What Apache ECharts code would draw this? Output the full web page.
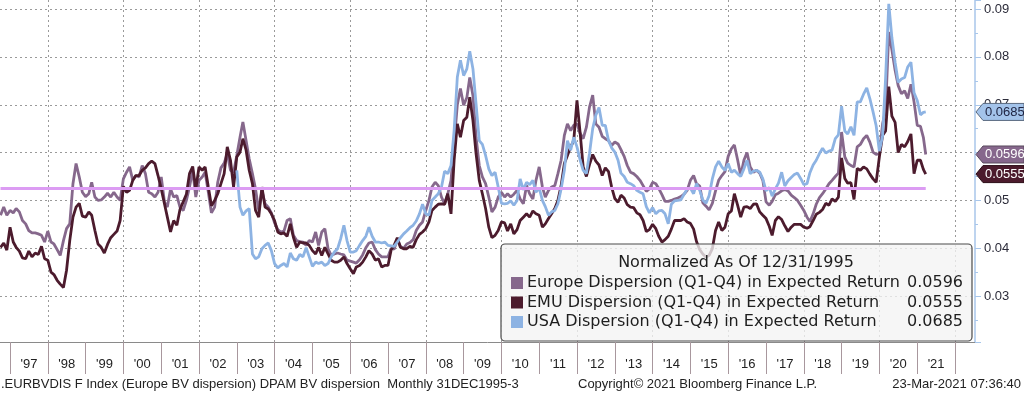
<!DOCTYPE html>
<html><head><meta charset="utf-8">
<script src="https://cdn.jsdelivr.net/npm/echarts@6/dist/echarts.min.js"></script>
<style>html,body{margin:0;padding:0;background:#fff;}#c{width:1024px;height:393px;}</style>
</head><body><div id="c"></div>
<script>
// ---------------- DATA ----------------
const seriesNames = [
  'Europe Dispersion (Q1-Q4) in Expected Return',
  'EMU Dispersion (Q1-Q4) in Expected Return',
  'USA Dispersion (Q1-Q4) in Expected Return'
];
const legendTitle = 'Normalized As Of 12/31/1995';
const footerLeft = '.EURBVDIS F Index (Europe BV dispersion) DPAM BV dispersion  Monthly 31DEC1995-3';
const footerMid = 'Copyright\u00A9 2021 Bloomberg Finance L.P.';
const footerRight = '23-Mar-2021 07:36:40';

// monthly (month-end) observations
const europeStart = [1996, 9];
const emuStart = [1996, 9];
const usaStart = [2002, 12];
const lastObsDate = '2021-03-23';

const europe = [
  0.0469, 0.0486, 0.0469, 0.0479,
  0.0474, 0.0483, 0.0476, 0.0458, 0.0451, 0.0437, 0.0432, 0.0432, 0.0430, 0.0427, 0.0413, 0.0436,
  0.0413, 0.0409, 0.0397, 0.0385, 0.0416, 0.0441, 0.0451, 0.0535, 0.0577, 0.0549, 0.0517, 0.0508,
  0.0514, 0.0538, 0.0507, 0.0500, 0.0501, 0.0507, 0.0515, 0.0507, 0.0517, 0.0507, 0.0500, 0.0545,
  0.0559, 0.0570, 0.0542, 0.0552, 0.0549, 0.0573, 0.0556, 0.0517, 0.0514, 0.0507, 0.0517, 0.0549,
  0.0497, 0.0486, 0.0524, 0.0507, 0.0510, 0.0486, 0.0479, 0.0500, 0.0528, 0.0563, 0.0507, 0.0542,
  0.0549, 0.0559, 0.0517, 0.0474, 0.0486, 0.0538, 0.0568, 0.0578, 0.0598, 0.0563, 0.0559, 0.0594,
  0.0632, 0.0664, 0.0625, 0.0587, 0.0556, 0.0524, 0.0479, 0.0521, 0.0493, 0.0486, 0.0474, 0.0453,
  0.0439, 0.0434, 0.0436, 0.0458, 0.0462, 0.0427, 0.0416, 0.0414, 0.0413, 0.0406, 0.0416, 0.0413,
  0.0434, 0.0406, 0.0434, 0.0441, 0.0399, 0.0385, 0.0388, 0.0390, 0.0388, 0.0386, 0.0375, 0.0373,
  0.0371, 0.0369, 0.0376, 0.0386, 0.0401, 0.0411, 0.0413, 0.0397, 0.0388, 0.0382, 0.0382, 0.0382,
  0.0400, 0.0398, 0.0418, 0.0404, 0.0400, 0.0409, 0.0412, 0.0418, 0.0437, 0.0448, 0.0455, 0.0479,
  0.0500, 0.0528, 0.0538, 0.0531, 0.0507, 0.0493, 0.0514, 0.0542, 0.0618, 0.0700, 0.0734, 0.0699,
  0.0715, 0.0757, 0.0719, 0.0632, 0.0573, 0.0549, 0.0535, 0.0507, 0.0476, 0.0486, 0.0507, 0.0517,
  0.0507, 0.0514, 0.0507, 0.0513, 0.0521, 0.0503, 0.0493, 0.0531, 0.0514, 0.0503, 0.0542, 0.0570,
  0.0528, 0.0507, 0.0521, 0.0528, 0.0531, 0.0556, 0.0584, 0.0636, 0.0660, 0.0646, 0.0657, 0.0660,
  0.0640, 0.0629, 0.0653, 0.0695, 0.0720, 0.0660, 0.0653, 0.0634, 0.0629, 0.0625, 0.0615, 0.0622,
  0.0618, 0.0606, 0.0592, 0.0573, 0.0559, 0.0556, 0.0550, 0.0542, 0.0531, 0.0519, 0.0524, 0.0538,
  0.0535, 0.0525, 0.0512, 0.0498, 0.0498, 0.0500, 0.0503, 0.0505, 0.0508, 0.0513, 0.0521, 0.0542,
  0.0552, 0.0535, 0.0530, 0.0495, 0.0488, 0.0480, 0.0494, 0.0520, 0.0542, 0.0552, 0.0560, 0.0592,
  0.0608, 0.0616, 0.0585, 0.0552, 0.0584, 0.0600, 0.0570, 0.0559, 0.0563, 0.0557, 0.0542, 0.0497,
  0.0490, 0.0498, 0.0512, 0.0515, 0.0520, 0.0523, 0.0520, 0.0511, 0.0506, 0.0500, 0.0490, 0.0479,
  0.0465, 0.0456, 0.0472, 0.0492, 0.0506, 0.0514, 0.0524, 0.0535, 0.0542, 0.0550, 0.0557, 0.0643,
  0.0591, 0.0578, 0.0573, 0.0570, 0.0612, 0.0617, 0.0629, 0.0636, 0.0622, 0.0601, 0.0596, 0.0598,
  0.0660, 0.0688, 0.0852, 0.0815, 0.0772, 0.0740, 0.0723, 0.0729, 0.0713, 0.0743, 0.0706, 0.0657,
  0.0655, 0.0632, 0.0596
];

const emu = [
  0.0402, 0.0411, 0.0396, 0.0444,
  0.0413, 0.0402, 0.0394, 0.0380, 0.0378, 0.0394, 0.0382, 0.0390, 0.0387, 0.0404, 0.0378, 0.0375,
  0.0350, 0.0345, 0.0333, 0.0325, 0.0318, 0.0354, 0.0416, 0.0465, 0.0486, 0.0494, 0.0467, 0.0465,
  0.0476, 0.0469, 0.0437, 0.0409, 0.0402, 0.0390, 0.0408, 0.0422, 0.0429, 0.0436, 0.0458, 0.0529,
  0.0517, 0.0521, 0.0542, 0.0552, 0.0552, 0.0563, 0.0568, 0.0577, 0.0582, 0.0577, 0.0552, 0.0524,
  0.0493, 0.0465, 0.0434, 0.0458, 0.0448, 0.0481, 0.0497, 0.0513, 0.0556, 0.0571, 0.0524, 0.0570,
  0.0563, 0.0570, 0.0528, 0.0489, 0.0500, 0.0514, 0.0535, 0.0556, 0.0612, 0.0584, 0.0528, 0.0591,
  0.0601, 0.0629, 0.0605, 0.0563, 0.0535, 0.0479, 0.0465, 0.0528, 0.0486, 0.0482, 0.0472, 0.0458,
  0.0434, 0.0430, 0.0432, 0.0425, 0.0451, 0.0423, 0.0402, 0.0413, 0.0411, 0.0411, 0.0406, 0.0395,
  0.0388, 0.0402, 0.0385, 0.0402, 0.0388, 0.0375, 0.0371, 0.0371, 0.0375, 0.0382, 0.0368, 0.0357,
  0.0347, 0.0361, 0.0364, 0.0371, 0.0382, 0.0395, 0.0388, 0.0375, 0.0378, 0.0361, 0.0364, 0.0364,
  0.0397, 0.0406, 0.0422, 0.0402, 0.0399, 0.0399, 0.0404, 0.0402, 0.0418, 0.0429, 0.0434, 0.0441,
  0.0455, 0.0479, 0.0486, 0.0492, 0.0493, 0.0492, 0.0514, 0.0472, 0.0584, 0.0660, 0.0632, 0.0667,
  0.0674, 0.0716, 0.0667, 0.0598, 0.0542, 0.0514, 0.0483, 0.0444, 0.0422, 0.0427, 0.0437, 0.0455,
  0.0453, 0.0436, 0.0451, 0.0430, 0.0439, 0.0458, 0.0465, 0.0472, 0.0465, 0.0478, 0.0472, 0.0469,
  0.0444, 0.0451, 0.0462, 0.0472, 0.0483, 0.0500, 0.0531, 0.0577, 0.0594, 0.0612, 0.0625, 0.0709,
  0.0640, 0.0570, 0.0550, 0.0575, 0.0596, 0.0582, 0.0574, 0.0552, 0.0568, 0.0560, 0.0528, 0.0504,
  0.0496, 0.0511, 0.0505, 0.0491, 0.0486, 0.0485, 0.0474, 0.0470, 0.0458, 0.0435, 0.0439, 0.0450,
  0.0441, 0.0425, 0.0413, 0.0418, 0.0425, 0.0440, 0.0458, 0.0458, 0.0458, 0.0462, 0.0455, 0.0452,
  0.0440, 0.0414, 0.0397, 0.0388, 0.0381, 0.0385, 0.0399, 0.0437, 0.0455, 0.0437, 0.0444, 0.0472,
  0.0478, 0.0514, 0.0490, 0.0465, 0.0486, 0.0487, 0.0483, 0.0492, 0.0493, 0.0476, 0.0469, 0.0462,
  0.0446, 0.0427, 0.0458, 0.0466, 0.0460, 0.0447, 0.0435, 0.0444, 0.0450, 0.0450, 0.0450, 0.0444,
  0.0442, 0.0445, 0.0458, 0.0471, 0.0475, 0.0481, 0.0494, 0.0490, 0.0503, 0.0498, 0.0507, 0.0589,
  0.0546, 0.0536, 0.0537, 0.0502, 0.0567, 0.0563, 0.0570, 0.0566, 0.0555, 0.0545, 0.0538, 0.0591,
  0.0636, 0.0645, 0.0738, 0.0676, 0.0663, 0.0600, 0.0617, 0.0612, 0.0623, 0.0639, 0.0556, 0.0584,
  0.0584, 0.0565, 0.0555
];

const usa = [
  0.0563,
  0.0486, 0.0469, 0.0478, 0.0483, 0.0388, 0.0378, 0.0382, 0.0399, 0.0406, 0.0411, 0.0395, 0.0368,
  0.0359, 0.0364, 0.0368, 0.0361, 0.0390, 0.0378, 0.0375, 0.0387, 0.0382, 0.0401, 0.0382, 0.0362,
  0.0371, 0.0368, 0.0371, 0.0364, 0.0368, 0.0382, 0.0392, 0.0399, 0.0420, 0.0448, 0.0416, 0.0392,
  0.0392, 0.0395, 0.0406, 0.0416, 0.0425, 0.0444, 0.0425, 0.0413, 0.0413, 0.0411, 0.0413, 0.0406,
  0.0405, 0.0404, 0.0413, 0.0422, 0.0430, 0.0436, 0.0443, 0.0448, 0.0457, 0.0472, 0.0492, 0.0472,
  0.0469, 0.0500, 0.0507, 0.0514, 0.0528, 0.0561, 0.0556, 0.0573, 0.0646, 0.0758, 0.0793, 0.0761,
  0.0775, 0.0812, 0.0775, 0.0702, 0.0625, 0.0617, 0.0594, 0.0566, 0.0552, 0.0559, 0.0528, 0.0494,
  0.0493, 0.0494, 0.0499, 0.0490, 0.0500, 0.0545, 0.0522, 0.0538, 0.0533, 0.0542, 0.0517, 0.0526,
  0.0500, 0.0487, 0.0469, 0.0476, 0.0479, 0.0493, 0.0524, 0.0563, 0.0625, 0.0605, 0.0632, 0.0612,
  0.0584, 0.0563, 0.0556, 0.0598, 0.0650, 0.0678, 0.0694, 0.0657, 0.0657, 0.0625, 0.0610, 0.0601,
  0.0584, 0.0557, 0.0550, 0.0538, 0.0535, 0.0531, 0.0521, 0.0517, 0.0514, 0.0487, 0.0474, 0.0485,
  0.0472, 0.0478, 0.0479, 0.0472, 0.0451, 0.0492, 0.0499, 0.0500, 0.0501, 0.0513, 0.0524, 0.0526,
  0.0514, 0.0535, 0.0521, 0.0501, 0.0494, 0.0510, 0.0545, 0.0570, 0.0582, 0.0570, 0.0563, 0.0577,
  0.0559, 0.0563, 0.0556, 0.0550, 0.0566, 0.0584, 0.0556, 0.0561, 0.0563, 0.0559, 0.0545, 0.0520,
  0.0527, 0.0509, 0.0524, 0.0536, 0.0559, 0.0530, 0.0541, 0.0548, 0.0554, 0.0557, 0.0546, 0.0533,
  0.0535, 0.0558, 0.0574, 0.0584, 0.0598, 0.0609, 0.0599, 0.0603, 0.0605, 0.0629, 0.0637, 0.0697,
  0.0645, 0.0639, 0.0654, 0.0636, 0.0706, 0.0706, 0.0722, 0.0735, 0.0713, 0.0685, 0.0656, 0.0603,
  0.0635, 0.0756, 0.0911, 0.0840, 0.0789, 0.0747, 0.0754, 0.0757, 0.0779, 0.0789, 0.0725, 0.0709,
  0.0679, 0.0684, 0.0685
];

const refLevel = 0.0525;
const yearTicks = ["'97","'98","'99","'00","'01","'02","'03","'04","'05","'06","'07","'08",
  "'09","'10","'11","'12","'13","'14","'15","'16","'17","'18","'19","'20","'21"];

// ---------------- STYLE ----------------
const colors = ['#86688c', '#4c1b2d', '#8db3e3'];
const refColor = '#dc9cf3';
const gridColor = '#9a9a9a';
const axisBlue = '#a8c6ea';

function monthEnd(start, i) {
  const mm = start[1] - 1 + i;
  return Date.UTC(start[0] + Math.floor(mm / 12), (mm % 12) + 1, 0);
}
function toPairs(vals, start) {
  return vals.map((v, i) => [i === vals.length - 1 ? Date.parse(lastObsDate) : monthEnd(start, i), v]);
}
const eData = toPairs(europe, europeStart);
const mData = toPairs(emu, emuStart);
const uData = toPairs(usa, usaStart);

const chart = echarts.init(document.getElementById('c'), null, {renderer: 'canvas'});
const gridRightX = 975;
const evenYearStart = (idx) => idx % 2 === 1; // '98, '00, '02 ... boundaries

const option = {
  animation: false,
  backgroundColor: '#ffffff',
  grid: [
    {left: 0, right: 1024 - gridRightX, top: 0, bottom: 51},
    {left: 10, right: 69, top: 0, bottom: 51}
  ],
  xAxis: [
    {
      type: 'time', gridIndex: 0,
      min: Date.UTC(1996, 8, 25), max: Date.UTC(2022, 6, 12),
      axisLine: {show: true, onZero: false, lineStyle: {color: '#8a8a8a', width: 1}},
      axisTick: {show: false}, axisLabel: {show: false}, splitLine: {show: false}
    },
    {
      type: 'category', gridIndex: 1, data: yearTicks, boundaryGap: true,
      axisLine: {show: false},
      axisTick: {show: true, interval: 0, length: 32, lineStyle: {color: '#a8979d', width: 1}},
      axisLabel: {show: true, interval: 0, margin: 16, color: '#222', fontFamily: 'Liberation Sans', fontSize: 13},
      splitLine: {show: false}
    },
    {
      type: 'category', gridIndex: 1, data: yearTicks, boundaryGap: true,
      axisLine: {show: false},
      axisTick: {show: false, interval: evenYearStart},
      axisLabel: {show: false, interval: evenYearStart},
      splitLine: {show: true, interval: evenYearStart, lineStyle: {color: gridColor, type: [2, 3], width: 1}}
    }
  ],
  yAxis: [
    {
      type: 'value', gridIndex: 0, position: 'right',
      min: 0.0204, max: 0.0919, splitNumber: 7, minInterval: 0.01, maxInterval: 0.01,
      axisLine: {show: true, lineStyle: {color: axisBlue, width: 1.5}},
      axisTick: {show: true, length: 6, lineStyle: {color: axisBlue}},
      minorTick: {show: true, splitNumber: 2, length: 3, lineStyle: {color: axisBlue}},
      axisLabel: {show: true, margin: 9, color: '#2c2c3a', fontFamily: 'Liberation Sans', fontSize: 13,
        showMinLabel: false, showMaxLabel: false, formatter: v => v.toFixed(2)},
      splitLine: {show: true, showMinLine: false, showMaxLine: false,
        lineStyle: {color: gridColor, type: [2, 3], width: 1}}
    },
    {type: 'value', gridIndex: 1, show: false}
  ],
  series: [
    {name: seriesNames[0], type: 'line', xAxisIndex: 0, yAxisIndex: 0, data: eData, showSymbol: false,
      lineStyle: {color: colors[0], width: 2.8}, itemStyle: {color: colors[0]}, z: 2},
    {name: seriesNames[1], type: 'line', xAxisIndex: 0, yAxisIndex: 0, data: mData, showSymbol: false,
      lineStyle: {color: colors[1], width: 2.8}, itemStyle: {color: colors[1]}, z: 3},
    {name: seriesNames[2], type: 'line', xAxisIndex: 0, yAxisIndex: 0, data: uData, showSymbol: false,
      lineStyle: {color: colors[2], width: 2.8}, itemStyle: {color: colors[2]}, z: 4},
    {name: 'ref', type: 'line', xAxisIndex: 0, yAxisIndex: 0,
      data: [[eData[0][0], refLevel], [eData[eData.length - 1][0], refLevel]], showSymbol: false,
      lineStyle: {color: refColor, width: 3}, itemStyle: {color: refColor}, z: 5}
  ]
};
chart.setOption(option);

// ---------- overlays: legend box, value tags, footer ----------
const lastVals = [europe[europe.length - 1], emu[emu.length - 1], usa[usa.length - 1]];
const g = [];
const bx = 501, by = 244, bw = 471, bh = 97;
g.push({type: 'rect', z: 50, shape: {x: bx, y: by, width: bw, height: bh, r: 4},
  style: {fill: 'rgba(243,243,243,0.78)', stroke: '#4a4a4a', lineWidth: 1.2}});
g.push({type: 'text', z: 51, style: {text: legendTitle, x: 736, y: 263, align: 'center', verticalAlign: 'middle',
  font: '16px "DejaVu Sans"', fill: '#1e1e1e'}});
const rowY = [283, 302.5, 322];
for (let i = 0; i < 3; i++) {
  g.push({type: 'rect', z: 51, shape: {x: 511, y: rowY[i] - 6, width: 12, height: 12}, style: {fill: colors[i]}});
  g.push({type: 'text', z: 51, style: {text: seriesNames[i], x: 527, y: rowY[i], align: 'left', verticalAlign: 'middle',
    font: '16px "DejaVu Sans"', fill: '#1e1e1e'}});
  g.push({type: 'text', z: 51, style: {text: lastVals[i].toFixed(4), x: 963, y: rowY[i], align: 'right', verticalAlign: 'middle',
    font: '16px "DejaVu Sans"', fill: '#1e1e1e'}});
}
const tagDefs = [
  {v: lastVals[2], bg: '#a3c3ea', fg: '#1d2240', stroke: '#5a6a80'},
  {v: lastVals[0], bg: '#86678c', fg: '#ffffff', stroke: '#5a4a5e'},
  {v: lastVals[1], bg: '#4c1b2d', fg: '#ffffff', stroke: '#2a0c16'}
];
tagDefs.forEach(t => {
  const y = chart.convertToPixel({yAxisIndex: 0}, t.v);
  const x0 = gridRightX + 1, h = 8.5;
  g.push({type: 'polygon', z: 60, shape: {points: [[x0, y], [x0 + 7, y - h], [1024, y - h], [1024, y + h], [x0 + 7, y + h]]},
    style: {fill: t.bg, stroke: t.stroke, lineWidth: 1}});
  g.push({type: 'text', z: 61, style: {text: t.v.toFixed(4), x: x0 + 9, y: y, align: 'left', verticalAlign: 'middle',
    font: '13px "Liberation Sans"', fill: t.fg}});
});
const fy = 384;
g.push({type: 'text', z: 50, style: {text: footerLeft, x: 1, y: fy, align: 'left', verticalAlign: 'middle',
  font: '13px "Liberation Sans"', fill: '#222'}});
g.push({type: 'text', z: 50, style: {text: footerMid, x: 578, y: fy, align: 'left', verticalAlign: 'middle',
  font: '13px "Liberation Sans"', fill: '#222'}});
g.push({type: 'text', z: 50, style: {text: footerRight, x: 1021, y: fy, align: 'right', verticalAlign: 'middle',
  font: '13px "Liberation Sans"', fill: '#222'}});
chart.setOption({graphic: g});
</script>
</body></html>
